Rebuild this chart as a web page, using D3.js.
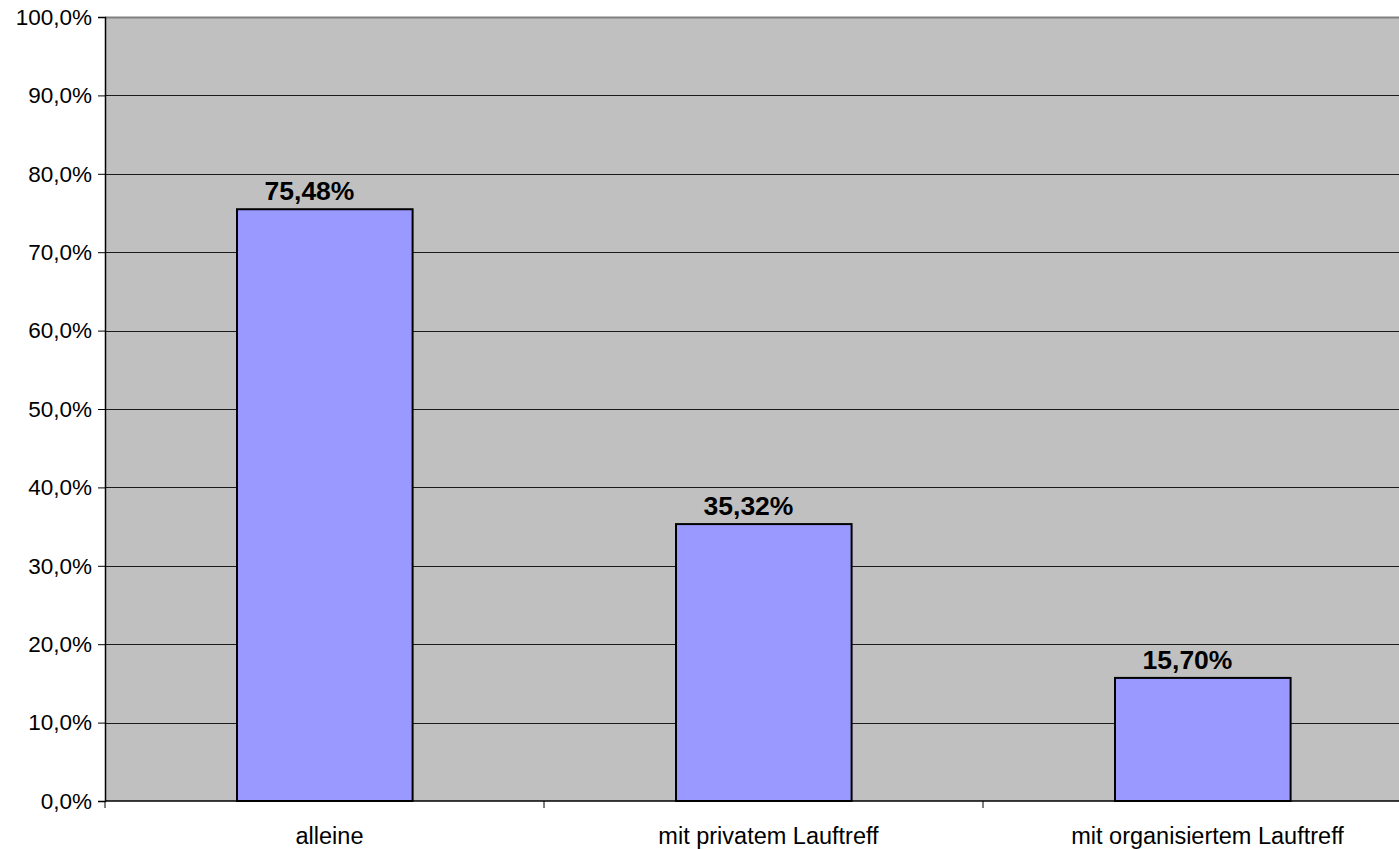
<!DOCTYPE html>
<html><head><meta charset="utf-8">
<script src="https://cdn.jsdelivr.net/npm/d3@7"></script>
<style>body{margin:0;background:#fff}svg{display:block}</style>
</head><body>
<svg id="c" width="1399" height="849"></svg>
<script>
const categories = ["alleine", "mit privatem Lauftreff", "mit organisiertem Lauftreff"];
const values = [75.48, 35.32, 15.70];
const valueLabels = ["75,48%", "35,32%", "15,70%"];
const yTicks = [0,10,20,30,40,50,60,70,80,90,100];

const svg = d3.select("#c");
const L = 105, T = 17, B = 801, R = 1422;
const x = d3.scaleBand().domain(categories).range([L, R]).paddingInner(0.6).paddingOuter(0.3);
const xb = d3.scaleBand().domain(categories).range([L, R]);
const y = d3.scaleLinear().domain([0,100]).range([B, T]);
const fmt = d => d.toFixed(1).replace(".", ",") + "%";

svg.append("rect").attr("x", L).attr("y", T).attr("width", R - L).attr("height", B - T).attr("fill", "#c0c0c0");
svg.append("line").attr("x1", L).attr("x2", R).attr("y1", T+0.5).attr("y2", T+0.5).attr("stroke", "#808080").attr("stroke-width", 2);

svg.append("g").selectAll("line").data(yTicks.filter(d => d > 0 && d < 100)).join("line")
  .attr("x1", L).attr("x2", R).attr("y1", d => Math.round(y(d)) + 0.5).attr("y2", d => Math.round(y(d)) + 0.5)
  .attr("stroke", "#1a1a1a").attr("stroke-width", 1);

const ya = svg.append("g").attr("transform", `translate(${L},0)`)
  .call(d3.axisLeft(y).tickValues(yTicks).tickFormat(fmt).tickSize(7).tickPadding(6));
ya.select(".domain").attr("stroke", "#000").attr("stroke-width", 1.5);
ya.selectAll(".tick line").attr("stroke", "#000");
ya.selectAll("text").attr("font-family", "Liberation Sans, Arial, sans-serif").attr("font-size", 22.5).attr("fill", "#000");

svg.append("g").selectAll("rect").data(values).join("rect")
  .attr("x", (d, i) => Math.round(x(categories[i])))
  .attr("y", d => y(d))
  .attr("width", x.bandwidth())
  .attr("height", d => B - y(d))
  .attr("fill", "#9999ff").attr("stroke", "#000").attr("stroke-width", 2);

svg.append("line").attr("x1", L).attr("x2", R).attr("y1", B).attr("y2", B).attr("stroke", "#000").attr("stroke-width", 1.5);
svg.append("g").selectAll("line").data([0,1,2]).join("line")
  .attr("x1", i => xb(categories[i])).attr("x2", i => xb(categories[i]))
  .attr("y1", B).attr("y2", B + 7).attr("stroke", "#000");

svg.append("g").selectAll("text").data(categories).join("text")
  .attr("x", d => xb(d) + xb.bandwidth()/2 + 5)
  .attr("y", 844)
  .attr("text-anchor", "middle")
  .attr("font-family", "Liberation Sans, Arial, sans-serif").attr("font-size", 23.5)
  .text(d => d);

svg.append("g").selectAll("text").data(values).join("text")
  .attr("x", (d, i) => x(categories[i]) + x.bandwidth()/2 - 15)
  .attr("y", d => y(d) - 9)
  .attr("text-anchor", "middle")
  .attr("font-family", "Liberation Sans, Arial, sans-serif").attr("font-size", 26.5).attr("font-weight", "bold")
  .text((d, i) => valueLabels[i]);
</script>
</body></html>
